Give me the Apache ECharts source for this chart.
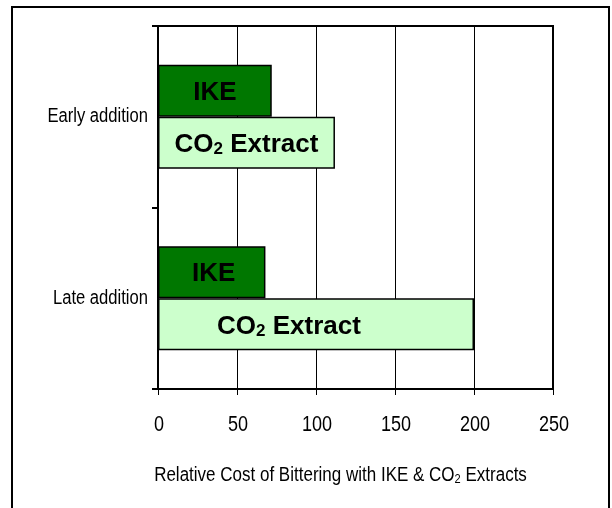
<!DOCTYPE html>
<html>
<head>
<meta charset="utf-8">
<script src="https://cdn.jsdelivr.net/npm/echarts@6/dist/echarts.min.js"></script>
<style>
  html, body { margin: 0; padding: 0; background: #fff; }
  #chart { width: 612px; height: 508px; }
</style>
</head>
<body>
<div id="chart"></div>
<script>
// Categories listed top to bottom
var categories = ['Early addition', 'Late addition'];
// Relative cost values per category
var ikeValues = [72, 68];
var co2Values = [112, 200];
// Value axis ticks
var xTicks = [0, 50, 100, 150, 200, 250];
var xTitle = 'Relative Cost of Bittering with IKE & CO{s|2} Extracts';

var sans = '"Liberation Sans", Arial, sans-serif';

// Hand-placed text boxes inside the bars
var ikeLabelOffsets = [[0, 2], [2, 2]];
var co2LabelOffsets = [[0, 2], [-27, 3]];

var labelRich = {
  b: { fontFamily: sans, fontWeight: 'bold', fontSize: 26, color: '#000' },
  sub: { fontFamily: sans, fontWeight: 'bold', fontSize: 17, color: '#000', padding: [9, 0, 0, 0] }
};

// Plot area placement
var gridLeft = 158, gridTop = 26, gridRight = 59, gridBottom = 119;
var chartH = 508;
var axisY = chartH - gridBottom;

var chart = echarts.init(document.getElementById('chart'), null, { renderer: 'canvas' });

var frame = {
  id: 'frame',
  type: 'rect',
  shape: { x: 12, y: 7, width: 597, height: 520 },
  style: { fill: 'none', stroke: '#000', lineWidth: 2 },
  silent: true
};

chart.setOption({
  animation: false,
  backgroundColor: '#fff',
  graphic: [frame],
  grid: {
    left: gridLeft, top: gridTop, right: gridRight, bottom: gridBottom,
    show: true, borderColor: '#000', borderWidth: 2, backgroundColor: 'transparent'
  },
  xAxis: {
    type: 'value',
    min: xTicks[0], max: xTicks[xTicks.length - 1], interval: xTicks[1] - xTicks[0],
    axisLine: { show: true, lineStyle: { color: '#000', width: 2 } },
    axisTick: { show: true, length: 6, lineStyle: { color: '#000', width: 1 } },
    splitLine: { show: true, lineStyle: { color: '#000', width: 1 } },
    axisLabel: { show: false }
  },
  yAxis: {
    type: 'category',
    data: categories,
    inverse: true,
    axisLine: { show: true, lineStyle: { color: '#000', width: 2 } },
    axisTick: { show: true, length: 6, lineStyle: { color: '#000', width: 2 } },
    splitLine: { show: false },
    axisLabel: { show: false }
  },
  series: [{
    name: 'IKE',
    type: 'bar',
    barWidth: 52,
    barGap: '0%',
    itemStyle: { color: '#007700', borderColor: '#000', borderWidth: 1.5 },
    label: { show: true, position: 'inside', formatter: '{b|IKE}', rich: labelRich },
    data: ikeValues.map(function (v, i) { return { value: v, label: { offset: ikeLabelOffsets[i] } }; })
  }, {
    name: 'CO2 Extract',
    type: 'bar',
    barWidth: 52,
    barGap: '0%',
    itemStyle: { color: '#ccffcc', borderColor: '#000', borderWidth: 1.5 },
    label: { show: true, position: 'inside', formatter: '{b|CO}{sub|2}{b| Extract}', rich: labelRich },
    data: co2Values.map(function (v, i) { return { value: v, label: { offset: co2LabelOffsets[i] } }; })
  }]
});

// Axis texts use a condensed face, drawn at the positions the axes report
var texts = [frame];
xTicks.forEach(function (t, i) {
  var px = chart.convertToPixel({ xAxisIndex: 0 }, t);
  texts.push({
    id: 'xt' + i, type: 'text', silent: true,
    x: px + 1, y: axisY + 36, scaleX: 0.82,
    style: { text: String(t), font: '22px ' + sans, fill: '#000', align: 'center', verticalAlign: 'middle' }
  });
});
categories.forEach(function (c, i) {
  var py = chart.convertToPixel({ yAxisIndex: 0 }, c);
  texts.push({
    id: 'yt' + i, type: 'text', silent: true,
    x: 148, y: py, scaleX: 0.83,
    style: { text: c, font: '20px ' + sans, fill: '#000', align: 'right', verticalAlign: 'middle' }
  });
});
var xMid = (chart.convertToPixel({ xAxisIndex: 0 }, xTicks[0]) + chart.convertToPixel({ xAxisIndex: 0 }, xTicks[xTicks.length - 1])) / 2;
texts.push({
  id: 'xname', type: 'text', silent: true,
  x: xMid - 15, y: axisY + 86, scaleX: 0.85,
  style: {
    text: xTitle, font: '20px ' + sans, fill: '#000', align: 'center', verticalAlign: 'middle',
    rich: {
      s: { fontFamily: sans, fontSize: 13, fill: '#000', padding: [9, 0, 0, 0] }
    }
  }
});
chart.setOption({ graphic: texts });
</script>
</body>
</html>
